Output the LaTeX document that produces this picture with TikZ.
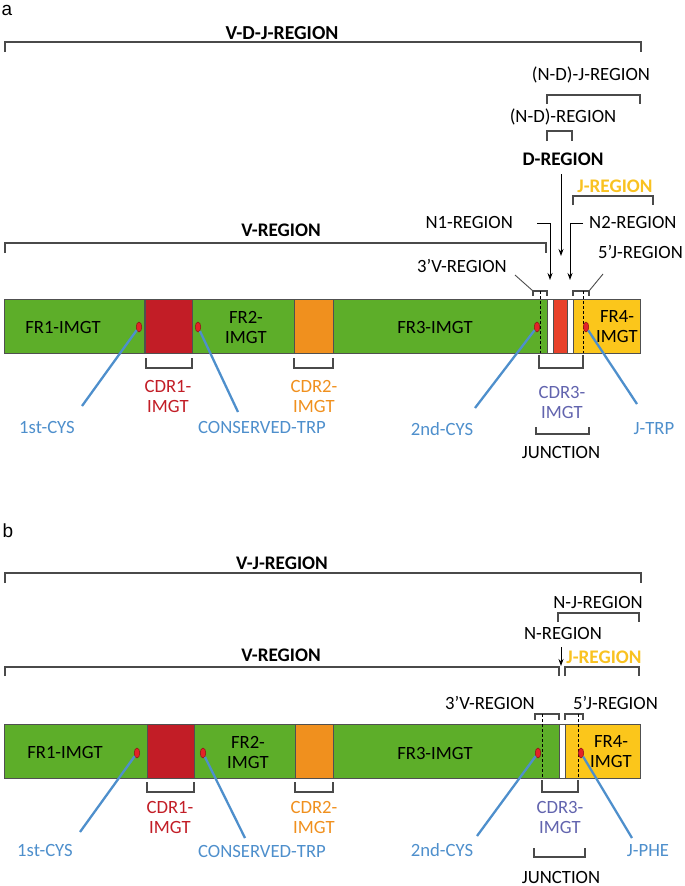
\documentclass[tikz,border=0pt]{standalone}
\usepackage{fontspec}
\setmainfont{Carlito}
\newfontfamily\panfont{Liberation Sans}
\usetikzlibrary{arrows.meta,shapes.geometric}
\definecolor{grn}{HTML}{5DAE29}
\definecolor{cdrone}{HTML}{C21D26}
\definecolor{cdrtwo}{HTML}{F0901E}
\definecolor{dred}{HTML}{E8412B}
\definecolor{jyel}{HTML}{FBC61B}
\definecolor{jtxt}{HTML}{F9C221}
\definecolor{purp}{HTML}{6264AE}
\definecolor{leadc}{HTML}{4E8FCC}
\definecolor{brc}{HTML}{4A4A4A}
\definecolor{segc}{HTML}{505050}
\definecolor{dotr}{HTML}{E32227}
\definecolor{dotd}{HTML}{8A1015}
\tikzset{
 brk/.style={draw=brc, line width=1.2pt},
 seg/.style={draw=segc, line width=0.7pt, inner sep=0, anchor=north west, minimum height=54},
 txt/.style={font=\fontsize{18.7}{20}\selectfont, inner sep=0, align=center},
 btxt/.style={font=\fontsize{19.2}{20}\selectfont\bfseries, inner sep=0, align=center},
 lead/.style={draw=leadc, line width=2.3pt},
 dotc/.style={ellipse, draw=dotd, fill=dotr, line width=0.5pt, minimum width=5.5, minimum height=10, inner sep=0},
 arr/.style={draw=black, line width=0.9pt, -{Stealth[length=7pt,width=5pt]}},
 dsh/.style={draw=black, line width=0.8pt, dash pattern=on 3pt off 2pt},
 pan/.style={font=\panfont\fontsize{19}{20}\selectfont, inner sep=0},
}
\begin{document}
\begin{tikzpicture}[x=1pt,y=-1pt]
\useasboundingbox (0,0) rectangle (685,886);
% ================= panel a =================
\node[pan] (pa) at (7,10) {a};
\node[btxt, font=\fontsize{19.8}{20}\selectfont\bfseries] (vdj) at (282,33) {V-D-J-REGION};
\draw[brk] (5,52) |- (641,42) -- (641,52);
\node[txt] (ndj) at (591,75) {(N-D)-J-REGION};
\draw[brk] (547,104) |- (640,95) -- (640,104);
\node[txt] (nd) at (563,117) {(N-D)-REGION};
\draw[brk] (547,141) |- (572,131) -- (572,141);
\node[btxt] (dreg) at (563,159) {D-REGION};
\node[btxt, text=jtxt] (jreg) at (615,186) {J-REGION};
\draw[brk] (573,205) |- (653,196) -- (653,205);
\node[txt, anchor=east] (n1) at (513,222) {N1-REGION};
\node[txt, anchor=west] (n2) at (589,222) {N2-REGION};
\node[btxt] (vreg) at (281,230) {V-REGION};
\draw[brk] (5,253) |- (546,243) -- (546,253);
\node[txt, anchor=west] (fivej) at (598,252) {5’J-REGION};
\node[txt, anchor=east] (threev) at (507,266) {3’V-REGION};
% segments
\node[seg, fill=grn, minimum width=140] (afr1) at (4,299) {};
\node[seg, fill=cdrone, minimum width=47] (acdr1) at (145,299) {};
\node[seg, fill=grn, minimum width=102] (afr2) at (192,299) {};
\node[seg, fill=cdrtwo, minimum width=39] (acdr2) at (294,299) {};
\node[seg, fill=grn, minimum width=214] (afr3) at (333,299) {};
\node[seg, fill=white, minimum width=6] (an1) at (547,299) {};
\node[seg, fill=dred, minimum width=14] (ad) at (553,299) {};
\node[seg, fill=white, minimum width=6] (an2) at (567,299) {};
\node[seg, fill=jyel, minimum width=67] (afr4) at (573,299) {};
% arrows
\coordinate (dA) at (561,174); \coordinate (dB) at (561,256);
\draw[arr] (dA) -- (dB);
\coordinate (n1A) at (537,223); \coordinate (n1B) at (550,280);
\draw[arr] (n1A) -| (n1B);
\coordinate (n2A) at (583,223); \coordinate (n2B) at (570,280);
\draw[arr] (n2A) -| (n2B);
\draw[brk] (533,296) |- (547,291) -- (547,296);
\draw[brk] (573,296) |- (589,291) -- (589,296);
\draw[brk, line width=0.9pt] (515,275) -- (533,291);
\draw[brk, line width=0.9pt] (589,291) -- (603,274);
\draw[dsh] (540,291) -- (540,353);
\draw[dsh] (583,291) -- (583,353);
% texts in bar
\node[txt] (tfr1a) at (63,327) {FR1-IMGT};
\node[txt] (tfr2a) at (246,327) {FR2-\\IMGT};
\node[txt] (tfr3a) at (435,327) {FR3-IMGT};
\node[txt] (tfr4a) at (617,327) {FR4-\\IMGT};
% lower brackets
\draw[brk] (146,358) |- (192,368) -- (192,358);
\draw[brk] (294,358) |- (333,368) -- (333,358);
\draw[brk] (539,355) |- (583,368) -- (583,355);
\draw[brk] (536,427) |- (589,434) -- (589,427);
\node[txt, text=cdrone] (tcdr1a) at (168,396) {CDR1-\\IMGT};
\node[txt, text=cdrtwo] (tcdr2a) at (314,396) {CDR2-\\IMGT};
\node[txt, text=purp] (tcdr3a) at (562,402) {CDR3-\\IMGT};
\node[txt] (juna) at (561,452) {JUNCTION};
% dots and leaders
\node[dotc] (d1a) at (139,327) {};
\node[dotc] (d2a) at (198,327) {};
\node[dotc] (d3a) at (537,327) {};
\node[dotc] (d4a) at (586,327) {};
\coordinate (e1a) at (82,406);
\coordinate (e2a) at (238,412);
\coordinate (e3a) at (475,408);
\coordinate (e4a) at (637,404);
\draw[lead] (d1a) -- (e1a);
\draw[lead] (d2a) -- (e2a);
\draw[lead] (d3a) -- (e3a);
\draw[lead] (d4a) -- (e4a);
\node[txt, text=leadc] (l1a) at (47,427) {1st-CYS};
\node[txt, text=leadc] (l2a) at (262,427) {CONSERVED-TRP};
\node[txt, text=leadc] (l3a) at (442,429) {2nd-CYS};
\node[txt, text=leadc] (l4a) at (654,429) {J-TRP};
% ================= panel b =================
\node[pan] (pb) at (8,531) {b};
\node[btxt] (vj) at (282,563) {V-J-REGION};
\draw[brk] (5,583) |- (641,573) -- (641,583);
\node[txt] (nj) at (598,602) {N-J-REGION};
\draw[brk] (558,622) |- (639,613) -- (639,622);
\node[txt] (nreg) at (563,633) {N-REGION};
\coordinate (nA) at (561,647); \coordinate (nB) at (561,666);
\draw[arr] (nA) -- (nB);
\node[btxt, text=jtxt] (jregb) at (604,657) {J-REGION};
\node[btxt] (vregb) at (281,655) {V-REGION};
\draw[brk] (5,676) |- (559,667) -- (559,676);
\draw[brk] (565,676) |- (639,667) -- (639,676);
\node[txt, anchor=east] (threevb) at (535,703) {3’V-REGION};
\node[txt, anchor=west] (fivejb) at (573,703) {5’J-REGION};
\draw[brk] (535,720) |- (559,714) -- (559,720);
\draw[brk] (565,720) |- (583,714) -- (583,720);
% segments
\node[seg, fill=grn, minimum width=143] (bfr1) at (4,724) {};
\node[seg, fill=cdrone, minimum width=47] (bcdr1) at (147,724) {};
\node[seg, fill=grn, minimum width=101] (bfr2) at (194,724) {};
\node[seg, fill=cdrtwo, minimum width=38] (bcdr2) at (295,724) {};
\node[seg, fill=grn, minimum width=226] (bfr3) at (333,724) {};
\node[seg, fill=white, minimum width=6] (bn) at (559,724) {};
\node[seg, fill=jyel, minimum width=75] (bfr4) at (565,724) {};
\draw[dsh] (542,714) -- (542,778);
\draw[dsh] (578,714) -- (578,778);
\node[txt] (tfr1b) at (65,752) {FR1-IMGT};
\node[txt] (tfr2b) at (248,752) {FR2-\\IMGT};
\node[txt] (tfr3b) at (435,753) {FR3-IMGT};
\node[txt] (tfr4b) at (611,752) {FR4-\\IMGT};
\draw[brk] (147,782) |- (194,792) -- (194,782);
\draw[brk] (295,782) |- (333,792) -- (333,782);
\draw[brk] (542,780) |- (578,792) -- (578,780);
\draw[brk] (534,848) |- (585,857) -- (585,848);
\node[txt, text=cdrone] (tcdr1b) at (170,817) {CDR1-\\IMGT};
\node[txt, text=cdrtwo] (tcdr2b) at (314,817) {CDR2-\\IMGT};
\node[txt, text=purp] (tcdr3b) at (560,817) {CDR3-\\IMGT};
\node[txt] (junb) at (561,877) {JUNCTION};
\node[dotc] (d1b) at (137,753) {};
\node[dotc] (d2b) at (203,753) {};
\node[dotc] (d3b) at (538,753) {};
\node[dotc] (d4b) at (581,753) {};
\coordinate (e1b) at (80,832);
\coordinate (e2b) at (245,838);
\coordinate (e3b) at (477,836);
\coordinate (e4b) at (632,838);
\draw[lead] (d1b) -- (e1b);
\draw[lead] (d2b) -- (e2b);
\draw[lead] (d3b) -- (e3b);
\draw[lead] (d4b) -- (e4b);
\node[txt, text=leadc] (l1b) at (45,850) {1st-CYS};
\node[txt, text=leadc] (l2b) at (262,851) {CONSERVED-TRP};
\node[txt, text=leadc] (l3b) at (442,850) {2nd-CYS};
\node[txt, text=leadc] (l4b) at (648,851) {J-PHE};
\end{tikzpicture}
\end{document}
